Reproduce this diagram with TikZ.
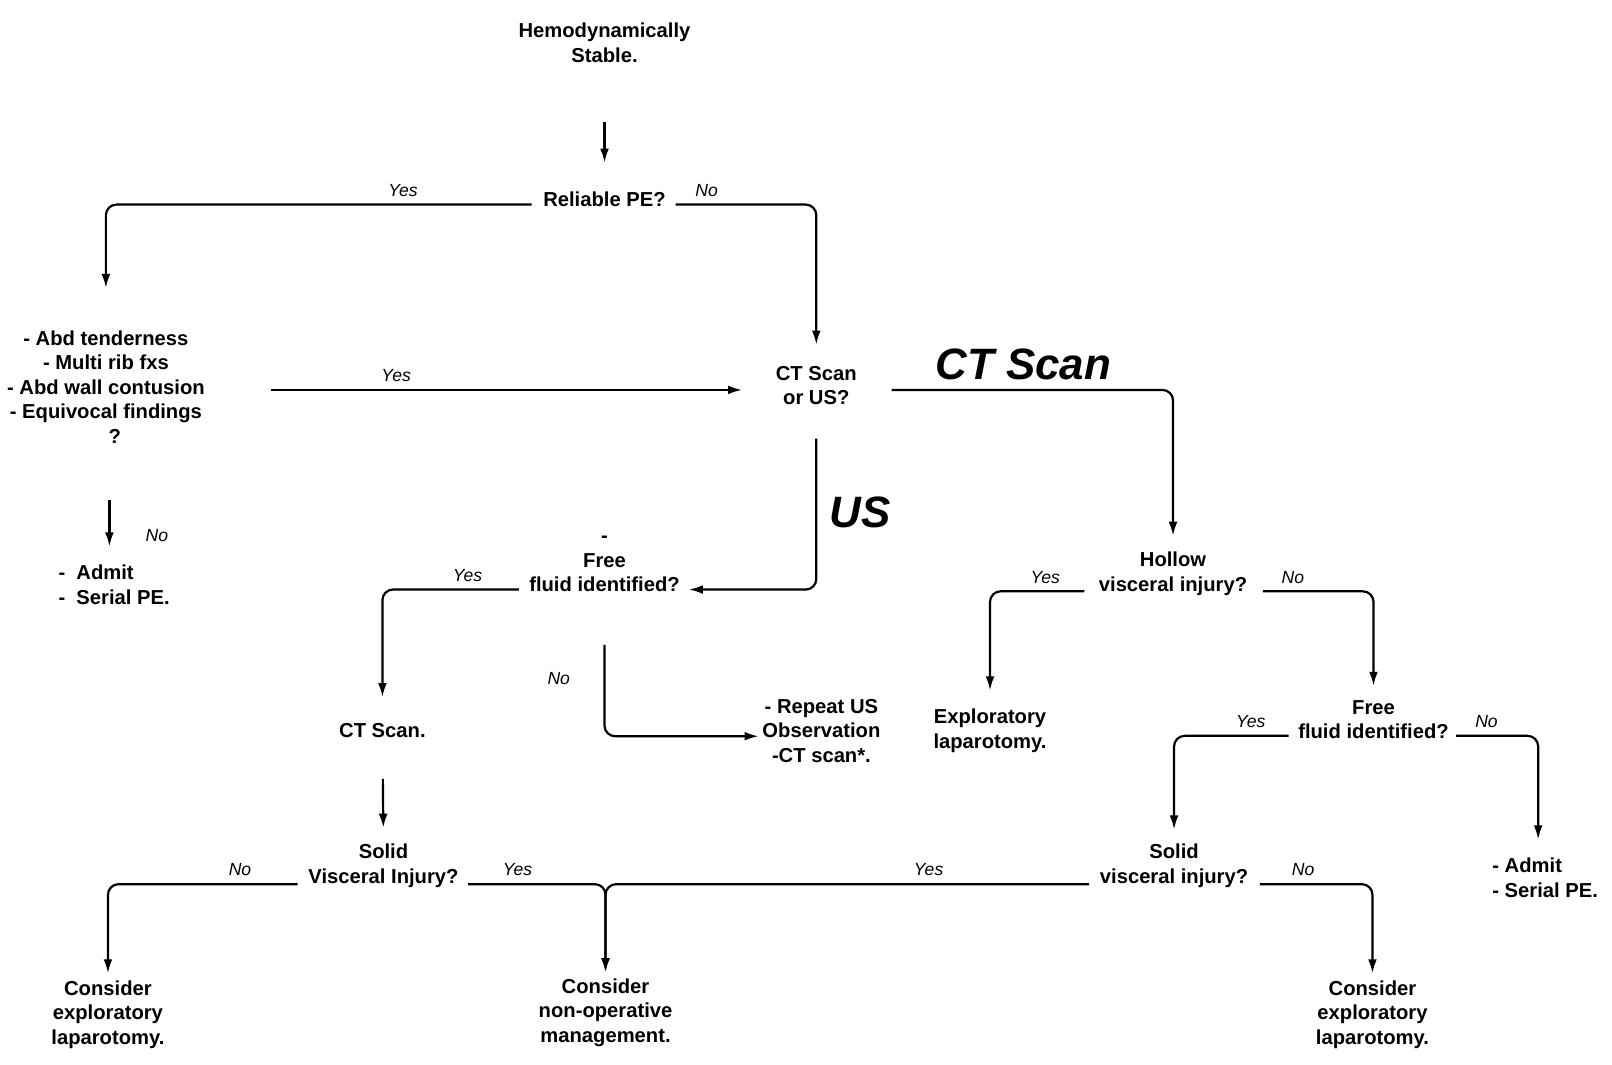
\documentclass[tikz,border=0pt]{standalone}
\usepackage{fontspec}
\setmainfont{Liberation Sans}
\usetikzlibrary{arrows.meta}
\tikzset{
  txt/.style={font=\bfseries\fontsize{11.5}{14}\selectfont, align=center, inner sep=0pt},
  big/.style={font=\bfseries\itshape\fontsize{25}{30}\selectfont, inner sep=0pt},
  yn/.style={font=\itshape\fontsize{10}{12}\selectfont, inner sep=0pt},
  flow/.style={line width=1.25pt, -{Latex[length=8pt,width=5pt]}, rounded corners=6pt},
}
\begin{document}
\begin{tikzpicture}[x=0.585pt, y=-0.585pt]
\useasboundingbox (0,0) rectangle (1568,1035);

\node[txt] (hemo) at (588,41.5) {Hemodynamically\\Stable.};
\node[txt] (pe) at (588,194) {Reliable PE?};
\node[txt] (signs) at (103,376.5) {- Abd tenderness\\- Multi rib fxs\\- Abd wall contusion\\- Equivocal findings\\\hspace{10pt}?};
\node[txt] (ctus) at (794,375) {CT Scan\\or US?};
\node[txt, align=left] (admitA) at (111,569) {-\ \ Admit\\-\ \ Serial PE.};
\node[txt] (freeA) at (588,548.5) {-\\Free\\fluid identified?};
\node[txt] (ctscan) at (372,711) {CT Scan.};
\node[txt] (repeat) at (799,711) {- Repeat US\\Observation\\-CT scan*.};
\node[txt] (solidA) at (373,842) {Solid\\Visceral Injury?};
\node[txt] (consA) at (105,987) {Consider\\exploratory\\laparotomy.};
\node[txt] (consB) at (589,985) {Consider\\non-operative\\management.};
\node[txt] (hollow) at (1141,558) {Hollow\\visceral injury?};
\node[txt] (explo) at (963,711) {Exploratory\\laparotomy.};
\node[txt] (freeB) at (1336,700) {Free\\fluid identified?};
\node[txt] (solidB) at (1142,842) {Solid\\visceral injury?};
\node[txt, align=left] (admitB) at (1503,854) {- Admit\\- Serial PE.};
\node[txt] (consC) at (1335,987) {Consider\\exploratory\\laparotomy.};

\draw[flow, shorten <=34pt, shorten >=16.5pt] (hemo.south) -- (pe.north);
\draw[flow, shorten <=6.5pt, shorten >=24pt] ([yshift=1.5pt]pe.south west) -| (signs.north)
  node[yn, pos=0.16, above=4pt] {Yes};
\draw[flow, shorten <=5.5pt, shorten >=12pt] ([yshift=1.5pt]pe.south east) -| (ctus.north)
  node[yn, pos=0.135, above=4pt] {No};
\draw[flow, shorten <=37.5pt, shorten >=19pt] ([yshift=-2.5pt]ctus.west -| signs.east) -- ([yshift=-2.5pt]ctus.west)
  node[yn, pos=0.335, above=4pt] {Yes};
\draw[flow, shorten <=32pt, shorten >=10.5pt] ([xshift=2pt]signs.south) -- ([xshift=2pt]signs.south |- admitA.north)
  node[yn, pos=0.76, right=20pt] {No};

\draw[flow, shorten <=19.7pt, shorten >=9pt] ([yshift=-2.5pt]ctus.east) -| (hollow.north)
  node[big, pos=0.263, above=5pt] {CT Scan};
\draw[flow, shorten <=19pt, shorten >=5pt] (ctus.south) |- ([yshift=1.5pt]freeA.south east)
  node[big, pos=0.29, right=7pt] {US};

\draw[flow, shorten <=5.8pt, shorten >=15pt] ([yshift=1.5pt]freeA.south west) -| (ctscan.north)
  node[yn, pos=0.21, above=4pt] {Yes};
\draw[flow, shorten <=30pt, shorten >=2pt] (freeA.south) |- ([yshift=-3pt]repeat.west)
  node[yn, pos=0.3, left=19pt] {No};
\draw[flow, shorten <=23pt, shorten >=9pt] (ctscan.south) -- (solidA.north);
\draw[flow, shorten <=6pt, shorten >=4pt] ([yshift=2pt]solidA.south west) -| (consA.north)
  node[yn, pos=0.17, above=4pt] {No};
\draw[flow, shorten <=5.3pt, shorten >=3.5pt] ([yshift=2pt]solidA.south east) -| (consB.north)
  node[yn, pos=0.2, above=4pt] {Yes};

\draw[flow, shorten <=8pt, shorten >=10.5pt] ([yshift=2.5pt]hollow.south west) -| (explo.north)
  node[yn, pos=0.245, above=4pt] {Yes};
\draw[flow, shorten <=8.8pt, shorten >=8pt] ([yshift=2.5pt]hollow.south east) -| (freeB.north)
  node[yn, pos=0.18, above=4pt] {No};
\draw[flow, shorten <=5.3pt, shorten >=8pt] ([yshift=2pt]freeB.south west) -| (solidB.north)
  node[yn, pos=0.19, above=4pt] {Yes};
\draw[flow, shorten <=4pt, shorten >=10.5pt] ([yshift=2pt]freeB.south east) -| ([xshift=-4pt]admitB.north)
  node[yn, pos=0.21, above=4pt] {No};
\draw[flow, shorten <=6pt, shorten >=3.5pt] ([yshift=2pt]solidB.south west) -| (consB.north)
  node[yn, pos=0.173, above=4pt] {Yes};
\draw[flow, shorten <=6.4pt, shorten >=4pt] ([yshift=2pt]solidB.south east) -| (consC.north)
  node[yn, pos=0.22, above=4pt] {No};
\end{tikzpicture}
\end{document}
